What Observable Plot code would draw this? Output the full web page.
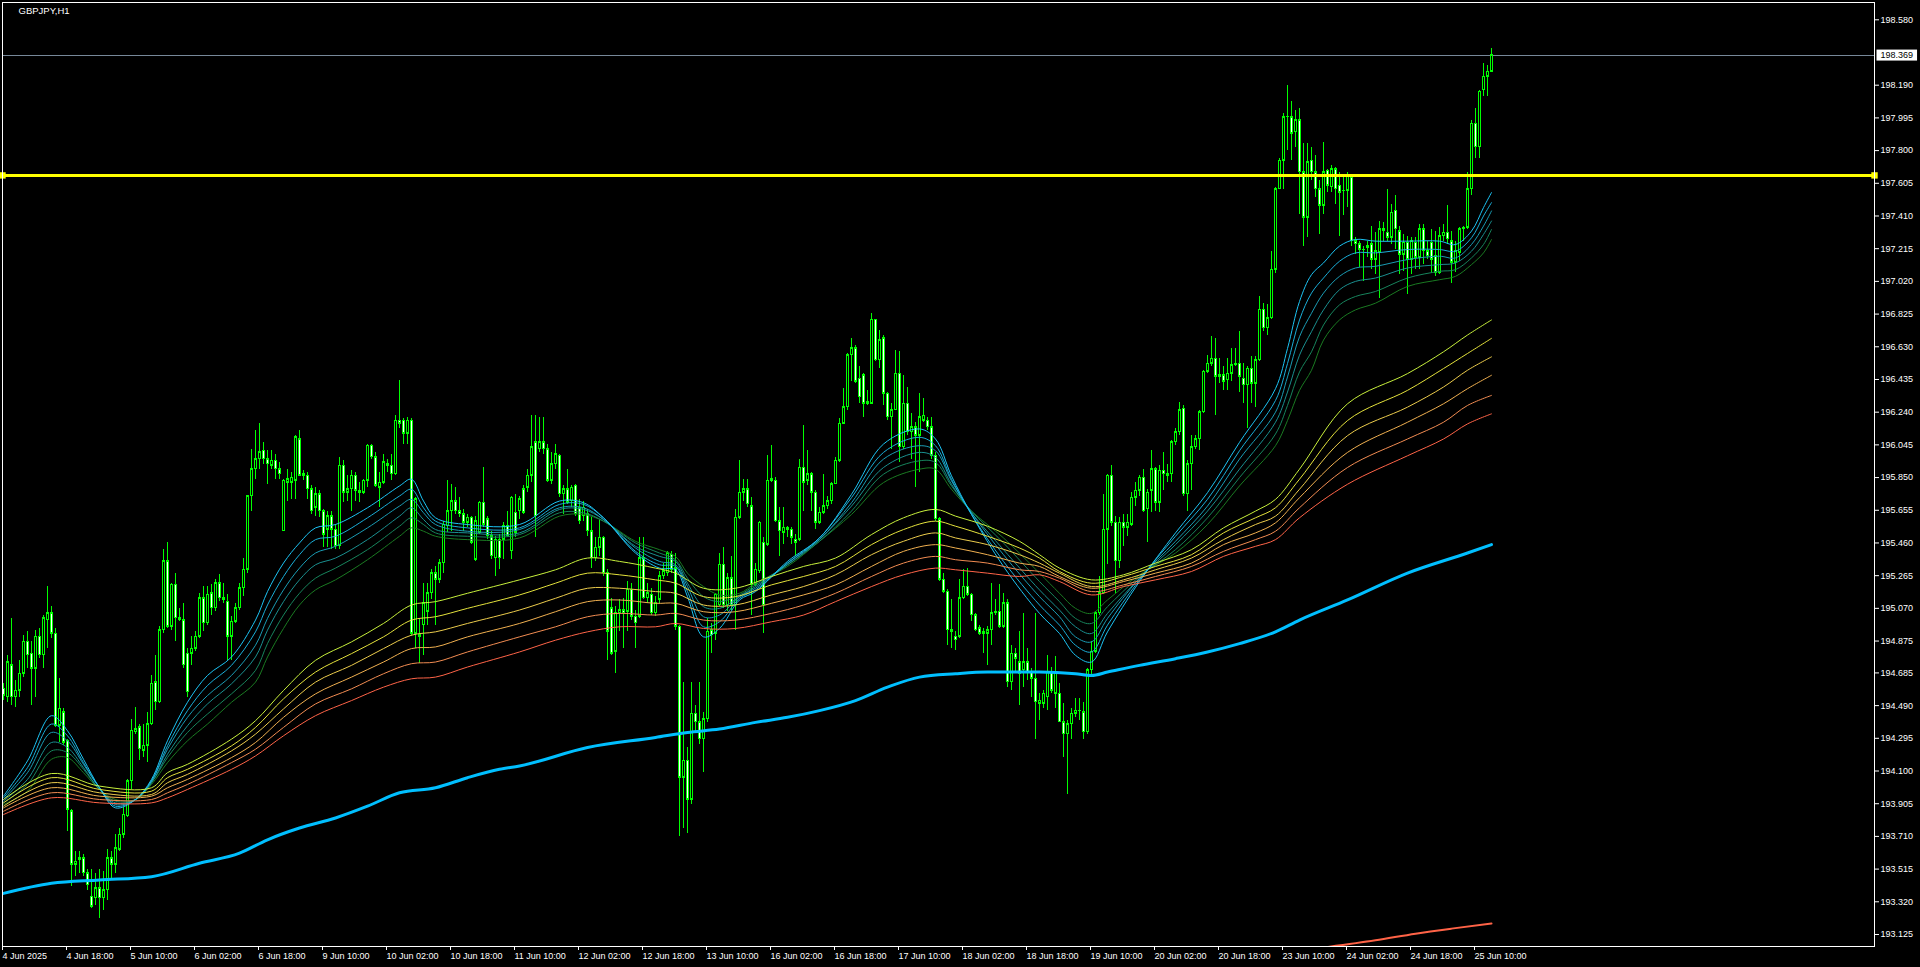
<!DOCTYPE html>
<html><head><meta charset="utf-8">
<script src="https://cdn.jsdelivr.net/npm/d3@7"></script>
<script src="https://cdn.jsdelivr.net/npm/@observablehq/plot@0.6"></script>
<style>
html,body{margin:0;padding:0;background:#000;overflow:hidden;}
svg{display:block;}
#err{color:#f00;font:20px sans-serif;position:absolute;left:200px;top:200px;}
</style></head><body><div id="chart"></div><div id="err"></div>
<script>
const symbolTitle = "GBPJPY,H1";
const xLabels = ["4 Jun 2025","4 Jun 18:00","5 Jun 10:00","6 Jun 02:00","6 Jun 18:00","9 Jun 10:00","10 Jun 02:00","10 Jun 18:00","11 Jun 10:00","12 Jun 02:00","12 Jun 18:00","13 Jun 10:00","16 Jun 02:00","16 Jun 18:00","17 Jun 10:00","18 Jun 02:00","18 Jun 18:00","19 Jun 10:00","20 Jun 02:00","20 Jun 18:00","23 Jun 10:00","24 Jun 02:00","24 Jun 18:00","25 Jun 10:00"];
const barsPerLabel = 16;
const yTicks = [198.580,198.190,197.995,197.800,197.605,197.410,197.215,197.020,196.825,196.630,196.435,196.240,196.045,195.850,195.655,195.460,195.265,195.070,194.875,194.685,194.490,194.295,194.100,193.905,193.710,193.515,193.320,193.125];
const currentPrice = 198.369;
const levelPrice = 197.652;

const open = [
194.59,194.54,194.73,194.54,194.58,194.68,194.87,194.80,194.71,194.90,
194.79,195.00,195.04,194.92,194.37,194.45,194.28,193.86,193.54,193.57,
193.58,193.49,193.35,193.34,193.40,193.34,193.39,193.58,193.54,193.63,
193.72,193.83,194.04,194.33,194.36,194.22,194.25,194.38,194.63,194.51,
194.94,195.35,194.96,195.21,195.01,195.00,194.80,194.80,194.83,194.90,
195.13,194.98,195.16,195.07,195.22,195.13,195.11,194.90,194.99,195.07,
195.19,195.30,195.74,195.90,195.96,196.01,195.96,195.92,195.95,195.90,
195.53,195.82,195.82,195.83,196.08,195.87,195.86,195.78,195.67,195.75,
195.65,195.54,195.62,195.54,195.44,195.92,195.76,195.78,195.86,195.77,
195.76,195.83,196.04,195.97,195.79,195.82,195.93,195.92,195.87,196.19,
196.19,196.11,196.19,194.92,194.91,194.97,195.05,195.16,195.28,195.24,
195.34,195.56,195.65,195.71,195.65,195.63,195.58,195.61,195.36,195.52,
195.70,195.60,195.50,195.37,195.48,195.48,195.56,195.41,195.64,195.65,
195.78,195.79,195.86,196.06,196.02,196.06,196.02,195.83,195.93,195.98,
195.75,195.78,195.71,195.80,195.67,195.62,195.63,195.53,195.37,195.43,
195.49,195.28,195.07,194.81,195.04,195.06,195.05,195.18,195.02,195.02,
195.37,195.13,195.15,195.04,195.12,195.26,195.28,195.39,195.31,194.96,
194.06,194.16,193.93,194.44,194.39,194.29,194.41,194.94,194.92,195.09,
195.33,195.09,195.25,195.09,195.61,195.76,195.78,195.68,195.21,195.29,
195.46,195.45,195.83,195.83,195.59,195.52,195.55,195.54,195.48,195.48,
195.91,195.83,195.87,195.76,195.58,195.64,195.68,195.71,195.81,195.95,
196.17,196.27,196.58,196.62,196.44,196.46,196.29,196.29,196.79,196.55,
196.68,196.35,196.21,196.25,196.47,196.03,196.29,196.12,196.15,196.10,
196.19,196.19,196.15,195.98,195.60,195.24,195.17,194.94,194.90,194.90,
195.13,195.20,195.15,195.03,194.95,194.92,194.92,194.94,195.04,195.05,
194.96,195.10,194.63,194.80,194.75,194.70,194.75,194.69,194.65,194.50,
194.50,194.54,194.69,194.56,194.56,194.39,194.32,194.38,194.44,194.46,
194.45,194.33,194.70,194.81,195.04,195.16,195.54,195.86,195.58,195.35,
195.58,195.55,195.57,195.73,195.77,195.85,195.66,195.77,195.90,195.70,
195.89,195.87,195.87,196.06,196.12,196.26,195.75,195.93,196.03,196.08,
196.24,196.48,196.53,196.56,196.46,196.46,196.43,196.47,196.52,196.53,
196.44,196.40,196.50,196.41,196.55,196.85,196.74,196.80,197.09,197.57,
197.74,198.00,198.00,197.91,197.98,197.67,197.40,197.74,197.67,197.57,
197.47,197.68,197.58,197.69,197.59,197.56,197.56,197.64,197.26,197.24,
197.21,197.22,197.24,197.15,197.19,197.33,197.31,197.28,197.44,197.32,
197.18,197.25,197.15,197.25,197.16,197.33,197.20,197.25,197.17,197.07,
197.29,197.31,197.26,197.13,197.19,197.33,197.34,197.57,197.96,197.82,
198.16,198.24,198.27];

const high = [
194.62,194.79,195.01,194.64,194.76,194.91,194.93,194.87,194.94,194.95,
195.03,195.20,195.08,194.95,194.65,194.47,194.29,193.87,193.62,193.62,
193.60,193.51,193.51,193.49,193.51,193.50,193.63,193.62,193.72,193.76,
193.88,194.05,194.41,194.48,194.38,194.38,194.45,194.67,194.79,194.96,
195.42,195.46,195.22,195.28,195.07,195.10,194.83,194.90,194.93,195.16,
195.20,195.20,195.21,195.24,195.27,195.22,195.15,195.02,195.10,195.22,
195.37,195.74,196.02,196.13,196.17,196.06,196.01,196.01,195.99,195.94,
195.84,195.90,195.88,196.10,196.13,195.89,195.88,195.80,195.79,195.77,
195.66,195.65,195.65,195.57,195.97,195.95,195.86,195.89,195.88,195.82,
195.84,196.05,196.05,196.00,195.88,195.99,195.96,195.99,196.22,196.43,
196.20,196.21,196.20,195.73,195.01,195.22,195.22,195.30,195.32,195.36,
195.59,195.83,195.81,195.79,195.73,195.66,195.63,195.62,195.62,195.71,
195.91,195.62,195.53,195.50,195.51,195.58,195.65,195.74,195.75,195.74,
195.80,195.90,196.22,196.22,196.21,196.21,196.05,196.00,196.05,195.99,
195.80,195.90,195.80,195.81,195.72,195.71,195.66,195.61,195.49,195.60,
195.50,195.30,195.13,195.08,195.12,195.13,195.23,195.22,195.06,195.49,
195.49,195.22,195.19,195.14,195.29,195.34,195.41,195.41,195.40,194.97,
194.63,194.24,194.63,194.49,194.63,194.45,195.01,194.98,195.16,195.40,
195.43,195.28,195.38,195.66,195.95,195.84,195.84,195.73,195.34,195.59,
195.49,195.98,196.04,195.85,195.67,195.67,195.56,195.55,195.51,195.96,
196.16,196.01,195.88,195.77,195.67,195.87,195.74,195.82,195.97,196.20,
196.38,196.59,196.68,196.64,196.51,196.47,196.37,196.83,196.79,196.73,
196.70,196.36,196.29,196.61,196.60,196.46,196.39,196.23,196.18,196.35,
196.32,196.21,196.21,196.00,195.61,195.28,195.18,195.12,194.93,195.24,
195.30,195.31,195.16,195.04,194.97,194.95,194.96,195.22,195.12,195.21,
195.16,195.12,194.85,194.83,194.93,195.04,194.83,194.71,195.04,194.56,
194.58,194.79,194.72,194.78,194.62,194.50,194.40,194.47,194.53,194.53,
194.51,194.71,194.87,195.05,195.26,195.75,195.87,195.92,195.62,195.61,
195.63,195.63,195.76,195.82,195.86,195.90,195.78,196.01,195.91,195.92,
196.00,195.93,196.07,196.14,196.30,196.28,195.95,196.10,196.10,196.25,
196.49,196.58,196.69,196.68,196.56,196.51,196.56,196.62,196.62,196.72,
196.53,196.51,196.57,196.57,196.93,196.89,196.88,197.20,197.58,197.75,
198.02,198.19,198.09,198.04,198.05,197.84,197.84,197.82,197.77,197.62,
197.85,197.69,197.71,197.70,197.67,197.65,197.67,197.65,197.28,197.26,
197.23,197.26,197.35,197.31,197.38,197.37,197.57,197.48,197.53,197.35,
197.30,197.29,197.28,197.28,197.36,197.36,197.26,197.33,197.32,197.34,
197.36,197.47,197.32,197.26,197.34,197.35,197.67,197.98,198.05,198.16,
198.32,198.31,198.41];

const low = [
194.52,194.51,194.49,194.48,194.54,194.66,194.71,194.49,194.54,194.77,
194.71,194.83,194.89,194.36,194.27,194.25,193.74,193.41,193.47,193.49,
193.47,193.39,193.28,193.30,193.22,193.27,193.33,193.45,193.49,193.62,
193.70,193.82,193.99,194.32,194.16,194.18,194.15,194.37,194.46,194.50,
194.92,194.95,194.94,194.87,194.99,194.71,194.54,194.73,194.81,194.89,
194.93,194.97,195.03,195.05,195.11,195.10,194.76,194.76,194.98,195.06,
195.14,195.28,195.65,195.84,195.90,195.93,195.81,195.90,195.84,195.84,
195.53,195.71,195.72,195.72,195.86,195.83,195.72,195.63,195.62,195.61,
195.43,195.43,195.42,195.42,195.42,195.70,195.71,195.65,195.71,195.70,
195.75,195.79,195.96,195.79,195.67,195.81,195.88,195.83,195.86,196.14,
196.05,196.05,194.90,194.83,194.74,194.79,194.97,195.12,194.97,195.22,
195.28,195.52,195.53,195.63,195.61,195.53,195.55,195.45,195.35,195.51,
195.55,195.48,195.36,195.26,195.30,195.36,195.49,195.36,195.49,195.60,
195.63,195.76,195.82,195.49,196.00,195.99,195.82,195.81,195.90,195.73,
195.63,195.69,195.67,195.62,195.57,195.59,195.50,195.31,195.35,195.38,
195.26,194.76,194.79,194.68,194.93,194.83,194.93,195.00,194.83,195.01,
195.12,195.10,195.03,195.02,195.10,195.24,195.26,195.28,194.94,193.71,
193.76,193.73,193.90,194.33,194.26,194.09,194.39,194.80,194.88,195.08,
195.07,195.05,195.06,194.94,195.60,195.71,195.67,195.03,195.20,195.28,
194.92,195.44,195.82,195.58,195.38,195.45,195.49,195.45,195.38,195.47,
195.65,195.80,195.65,195.54,195.57,195.63,195.66,195.69,195.81,195.94,
196.17,196.25,196.42,196.41,196.29,196.21,196.28,196.29,196.54,196.50,
196.28,196.19,196.02,196.25,195.94,196.02,196.10,195.96,195.79,195.88,
196.18,196.13,195.96,195.59,195.23,195.16,194.85,194.83,194.82,194.89,
195.12,195.14,194.99,194.93,194.91,194.80,194.73,194.85,195.03,194.95,
194.95,194.60,194.58,194.69,194.49,194.60,194.64,194.54,194.29,194.40,
194.47,194.46,194.56,194.47,194.39,194.18,193.96,194.29,194.42,194.40,
194.29,194.32,194.66,194.80,195.03,195.15,195.33,195.56,195.16,195.31,
195.44,195.50,195.56,195.68,195.74,195.64,195.46,195.64,195.65,195.64,
195.77,195.82,195.82,196.04,196.10,195.74,195.65,195.77,196.02,196.01,
196.23,196.47,196.51,196.22,196.41,196.37,196.37,196.42,196.51,196.36,
196.29,196.14,196.29,196.27,196.54,196.72,196.70,196.79,197.07,197.57,
197.57,197.80,197.74,197.82,197.42,197.23,197.28,197.62,197.52,197.30,
197.42,197.55,197.55,197.48,197.29,197.41,197.46,197.23,197.18,197.10,
197.02,197.16,197.09,197.06,196.92,197.26,197.26,197.24,197.21,197.06,
197.08,196.94,197.06,197.09,197.09,197.12,197.15,197.07,197.05,197.06,
197.26,197.24,197.01,197.07,197.14,197.26,197.33,197.53,197.75,197.75,
198.12,198.12,198.27];

const close = [
194.55,194.75,194.54,194.58,194.68,194.87,194.79,194.71,194.90,194.79,
195.01,195.04,194.92,194.37,194.47,194.27,193.87,193.54,193.56,193.58,
193.49,193.42,193.29,193.40,193.34,193.39,193.58,193.54,193.64,193.72,
193.84,194.04,194.34,194.35,194.23,194.25,194.38,194.62,194.51,194.94,
195.35,194.96,195.21,195.01,195.00,194.73,194.57,194.83,194.90,195.13,
194.98,195.15,195.07,195.22,195.13,195.12,194.90,194.99,195.07,195.19,
195.30,195.74,195.90,195.96,196.00,195.96,195.93,195.95,195.90,195.87,
195.83,195.84,195.85,196.09,195.86,195.86,195.78,195.65,195.75,195.65,
195.51,195.62,195.54,195.44,195.92,195.76,195.78,195.86,195.77,195.76,
195.83,196.04,195.97,195.80,195.82,195.94,195.92,195.87,196.19,196.17,
196.11,196.19,194.92,195.72,194.90,195.10,195.16,195.28,195.24,195.34,
195.57,195.65,195.71,195.65,195.63,195.58,195.61,195.46,195.59,195.70,
195.57,195.50,195.38,195.48,195.37,195.56,195.50,195.73,195.52,195.72,
195.64,195.86,196.03,195.62,196.06,196.02,195.83,195.93,195.99,195.75,
195.78,195.70,195.79,195.63,195.59,195.67,195.53,195.37,195.43,195.49,
195.28,194.93,194.80,195.04,195.06,195.04,195.18,195.02,194.98,195.37,
195.13,195.16,195.04,195.10,195.26,195.29,195.40,195.30,194.96,194.06,
194.16,193.93,194.44,194.39,194.29,194.41,194.93,194.91,195.15,195.33,
195.09,195.25,195.09,195.61,195.76,195.78,195.69,195.21,195.30,195.58,
195.09,195.83,195.84,195.59,195.53,195.55,195.54,195.49,195.46,195.91,
195.82,195.87,195.76,195.58,195.64,195.68,195.71,195.81,195.95,196.17,
196.27,196.58,196.62,196.42,196.33,196.29,196.30,196.79,196.55,196.67,
196.35,196.21,196.25,196.47,196.03,196.29,196.12,196.15,196.10,196.21,
196.22,196.15,195.98,195.60,195.24,195.17,194.94,194.93,194.88,195.13,
195.20,195.15,195.03,194.94,194.92,194.93,194.94,195.04,195.05,194.96,
195.10,194.63,194.80,194.77,194.68,194.75,194.69,194.65,194.51,194.52,
194.56,194.69,194.58,194.69,194.39,194.32,194.38,194.44,194.46,194.46,
194.33,194.70,194.81,195.04,195.16,195.54,195.86,195.58,195.35,195.58,
195.55,195.58,195.73,195.77,195.85,195.65,195.76,195.90,195.70,195.89,
195.87,195.86,196.06,196.12,196.25,195.75,195.93,196.03,196.08,196.24,
196.48,196.53,196.56,196.45,196.45,196.42,196.47,196.52,196.53,196.45,
196.40,196.50,196.41,196.55,196.85,196.74,196.80,197.09,197.57,197.74,
198.00,198.00,197.90,197.98,197.67,197.40,197.73,197.67,197.57,197.47,
197.67,197.59,197.69,197.57,197.55,197.56,197.65,197.26,197.24,197.21,
197.21,197.23,197.15,197.20,197.33,197.32,197.28,197.43,197.33,197.18,
197.25,197.15,197.26,197.16,197.33,197.20,197.17,197.15,197.07,197.29,
197.31,197.27,197.13,197.20,197.33,197.34,197.57,197.96,197.82,198.15,
198.24,198.27,198.369];

// Short-term moving-average ribbon, read at these bar indices
const shortIdx = [0,6,12,16,20,24,28,33,37,41,46,51,57,63,66,70,74,78,83,91,99,102,105,108,116,129,139,145,150,158,164,168,171,175,179,184,188,196,204,212,220,229,233,237,242,250,259,264,268,272,276,284,293,301,309,318,321,324,327,330,334,338,343,351,359,363,367,370,372];
const short1 = [193.95,194.16,194.43,194.34,194.17,194.00,193.88,193.93,194.05,194.28,194.51,194.67,194.78,195.00,195.17,195.34,195.46,195.55,195.57,195.67,195.80,195.84,195.71,195.61,195.57,195.57,195.71,195.70,195.61,195.40,195.31,195.30,195.14,194.90,194.95,195.12,195.17,195.35,195.49,195.75,196.05,196.14,196.08,195.86,195.63,195.32,195.04,194.92,194.79,194.75,194.93,195.23,195.52,195.76,196.06,196.38,196.62,196.90,197.06,197.13,197.23,197.27,197.26,197.26,197.26,197.24,197.32,197.46,197.55];
const short2 = [193.94,194.12,194.38,194.31,194.15,194.00,193.89,193.93,194.04,194.25,194.46,194.61,194.73,194.93,195.09,195.26,195.39,195.48,195.50,195.61,195.74,195.78,195.67,195.59,195.55,195.55,195.69,195.69,195.61,195.41,195.33,195.32,195.17,194.96,194.99,195.13,195.18,195.34,195.49,195.73,196.00,196.09,196.04,195.84,195.63,195.35,195.09,194.97,194.85,194.81,194.97,195.24,195.50,195.72,196.01,196.31,196.53,196.79,196.95,197.04,197.14,197.19,197.19,197.21,197.21,197.20,197.28,197.41,197.49];
const short3 = [193.93,194.09,194.33,194.28,194.14,194.00,193.90,193.93,194.04,194.23,194.42,194.55,194.67,194.85,195.01,195.18,195.31,195.40,195.44,195.55,195.68,195.72,195.64,195.57,195.53,195.54,195.67,195.67,195.60,195.43,195.35,195.33,195.20,195.02,195.03,195.14,195.19,195.34,195.48,195.70,195.96,196.04,196.01,195.83,195.64,195.39,195.14,195.02,194.90,194.87,195.01,195.25,195.47,195.68,195.96,196.24,196.45,196.69,196.83,196.95,197.05,197.10,197.11,197.15,197.17,197.16,197.24,197.35,197.44];
const short4 = [193.92,194.05,194.27,194.24,194.12,193.99,193.91,193.93,194.03,194.20,194.37,194.50,194.62,194.78,194.94,195.11,195.24,195.33,195.37,195.48,195.62,195.67,195.60,195.54,195.52,195.52,195.66,195.66,195.60,195.44,195.38,195.35,195.22,195.08,195.07,195.14,195.20,195.33,195.48,195.68,195.91,196.00,195.97,195.81,195.64,195.42,195.18,195.06,194.96,194.92,195.04,195.25,195.45,195.65,195.90,196.18,196.36,196.58,196.72,196.85,196.97,197.02,197.04,197.10,197.12,197.13,197.20,197.30,197.38];
const short5 = [193.91,194.02,194.22,194.21,194.11,193.99,193.92,193.93,194.03,194.18,194.33,194.44,194.56,194.70,194.86,195.03,195.16,195.25,195.31,195.42,195.56,195.61,195.57,195.52,195.50,195.51,195.64,195.64,195.59,195.46,195.40,195.36,195.25,195.14,195.11,195.15,195.21,195.33,195.47,195.65,195.87,195.95,195.94,195.80,195.65,195.46,195.23,195.11,195.01,194.98,195.08,195.26,195.42,195.61,195.85,196.11,196.28,196.48,196.60,196.76,196.88,196.93,196.96,197.04,197.08,197.09,197.16,197.24,197.33];
const short6 = [193.90,193.98,194.17,194.18,194.09,193.99,193.93,193.93,194.02,194.15,194.28,194.38,194.51,194.63,194.78,194.95,195.09,195.18,195.24,195.36,195.50,195.55,195.53,195.50,195.48,195.49,195.62,195.63,195.59,195.47,195.42,195.38,195.28,195.20,195.15,195.16,195.22,195.32,195.47,195.63,195.82,195.90,195.90,195.78,195.65,195.49,195.28,195.16,195.07,195.04,195.12,195.27,195.40,195.57,195.80,196.04,196.19,196.37,196.49,196.67,196.79,196.85,196.89,196.99,197.03,197.05,197.12,197.19,197.27];

// Long-term moving-average ribbon
const longIdx = [0,12,24,37,41,46,57,63,70,78,87,95,102,108,116,129,138,146,154,163,168,175,183,192,200,208,217,225,233,238,246,254,259,264,272,280,288,297,305,313,318,324,336,351,360,366,372];
const long1 = [193.93,194.085,194.01,194.00,194.09,194.14,194.29,194.40,194.58,194.76,194.87,194.98,195.09,195.11,195.16,195.24,195.30,195.37,195.35,195.31,195.28,195.19,195.19,195.26,195.32,195.37,195.51,195.61,195.66,195.62,195.56,195.47,195.39,195.31,195.24,195.27,195.34,195.42,195.55,195.65,195.72,195.90,196.29,196.47,196.60,196.70,196.79];
const long2 = [193.91,194.06,193.99,193.98,194.06,194.11,194.25,194.36,194.53,194.69,194.80,194.90,195.00,195.02,195.07,195.15,195.22,195.28,195.27,195.24,195.22,195.14,195.14,195.21,195.26,195.32,195.45,195.54,195.59,195.56,195.50,195.43,195.37,195.29,195.22,195.26,195.32,195.39,195.52,195.61,195.67,195.84,196.19,196.37,196.50,196.59,196.68];
const long3 = [193.89,194.03,193.97,193.96,194.03,194.08,194.22,194.32,194.47,194.63,194.73,194.83,194.91,194.93,194.98,195.06,195.13,195.19,195.19,195.17,195.16,195.09,195.09,195.15,195.20,195.27,195.39,195.47,195.52,195.49,195.45,195.39,195.34,195.28,195.20,195.24,195.30,195.37,195.48,195.57,195.62,195.78,196.10,196.27,196.39,196.49,196.57];
const long4 = [193.88,194.00,193.95,193.95,194.00,194.05,194.18,194.27,194.42,194.56,194.66,194.75,194.83,194.84,194.90,194.98,195.05,195.11,195.12,195.10,195.10,195.05,195.05,195.10,195.15,195.21,195.32,195.41,195.45,195.43,195.39,195.34,195.32,195.26,195.19,195.23,195.28,195.34,195.45,195.52,195.58,195.73,196.00,196.18,196.29,196.38,196.46];
const long5 = [193.86,193.97,193.93,193.93,193.97,194.02,194.15,194.23,194.36,194.50,194.59,194.68,194.74,194.75,194.81,194.90,194.96,195.02,195.04,195.03,195.04,195.00,195.00,195.04,195.09,195.16,195.26,195.34,195.38,195.36,195.34,195.30,195.29,195.25,195.17,195.21,195.26,195.32,195.41,195.48,195.53,195.67,195.91,196.08,196.18,196.28,196.34];
const long6 = [193.84,193.94,193.91,193.91,193.94,193.99,194.11,194.19,194.31,194.43,194.52,194.60,194.65,194.66,194.72,194.81,194.88,194.93,194.96,194.96,194.98,194.95,194.95,194.99,195.03,195.11,195.20,195.27,195.31,195.30,195.28,195.26,195.27,195.23,195.15,195.20,195.24,195.29,195.38,195.44,195.48,195.61,195.81,195.98,196.08,196.17,196.23];

// Thick blue moving average
const blueIdx = [0,12,24,37,49,59,66,74,83,91,99,108,116,124,129,146,163,171,179,188,196,204,213,221,229,238,246,259,268,272,276,284,293,301,309,318,324,336,351,366,372];
const blueMA = [193.37,193.43,193.45,193.47,193.55,193.61,193.69,193.76,193.82,193.89,193.97,194.00,194.06,194.11,194.13,194.24,194.30,194.33,194.35,194.39,194.42,194.46,194.52,194.60,194.66,194.68,194.69,194.69,194.68,194.67,194.69,194.73,194.77,194.81,194.86,194.93,195.00,195.12,195.28,195.40,195.45];

// Slow red moving average (only its end is inside the window)
const redIdx = [331,343,353,362,372];
const redMA = [193.05,193.09,193.13,193.16,193.19];

const shortColors = ["#1cc4f4","#1aaed8","#1a9cb4","#1a9090","#17845c","#1a7a22"];
const longColors = ["#c8f03c","#e4e23c","#eccc4c","#f0b050","#f28c52","#ff6448"];

const n = close.length;
const err = [];
if (open.length!==n||high.length!==n||low.length!==n) err.push(`ohlc ${open.length} ${high.length} ${low.length} ${n}`);
[short1,short2,short3,short4,short5,short6].forEach((a,k)=>{ if(a.length!==shortIdx.length) err.push(`short${k+1} ${a.length} vs ${shortIdx.length}`); });
[long1,long2,long3,long4,long5,long6].forEach((a,k)=>{ if(a.length!==longIdx.length) err.push(`long${k+1} ${a.length} vs ${longIdx.length}`); });
if (blueMA.length!==blueIdx.length) err.push("blue");
document.getElementById("err").textContent = err.join(" | ");

const bars = close.map((c,i)=>({i, o: open[i], h: high[i], l: low[i], c, bull: c >= open[i]}));
const series = (idx, vals) => idx.map((i,k)=>({i, v: vals[k]}));

const lineMarks = [];
[short6,short5,short4,short3,short2,short1].forEach((vals,k)=>{
  lineMarks.push(Plot.line(series(shortIdx, vals), {x:"i", y:"v", stroke: shortColors[5-k], strokeWidth: 1, curve:"catmull-rom"}));
});
[long6,long5,long4,long3,long2,long1].forEach((vals,k)=>{
  lineMarks.push(Plot.line(series(longIdx, vals), {x:"i", y:"v", stroke: longColors[5-k], strokeWidth: 1, curve:"catmull-rom"}));
});

const priceText = currentPrice.toFixed(3);

const plot = Plot.plot({
  width: 1920, height: 967,
  marginLeft: 2, marginRight: 46, marginTop: 2, marginBottom: 21,
  style: {background: "#000", color: "#fff", fontFamily: "'Liberation Sans', Arial, sans-serif", fontSize: "9px"},
  x: {type: "linear", domain: [-0.25, 467.75]},
  y: {domain: [193.0534, 198.6832]},
  marks: [
    Plot.ruleY([currentPrice], {stroke: "#778899", strokeWidth: 1, shapeRendering: "crispEdges"}),
    // wicks
    Plot.rect(bars, {x1: d => d.i, x2: d => d.i + 0.25, y1: "l", y2: "h", fill: "#00ff00", shapeRendering: "crispEdges"}),
    // bodies
    Plot.rect(bars, {x1: d => d.i - 0.25, x2: d => d.i + 0.5, y1: d => Math.min(d.o, d.c), y2: d => Math.max(d.o, d.c), fill: "#00ff00", insetTop: -0.5, insetBottom: -0.5, shapeRendering: "crispEdges"}),
    Plot.rect(bars, {filter: d => Math.abs(d.o - d.c) > 0.014, x1: d => d.i, x2: d => d.i + 0.25, y1: d => Math.min(d.o, d.c), y2: d => Math.max(d.o, d.c), fill: d => d.bull ? "#000" : "#fff", insetTop: 1, insetBottom: 1, shapeRendering: "crispEdges"}),
    ...lineMarks,
    Plot.line(series(blueIdx, blueMA), {x: "i", y: "v", stroke: "#00bfff", strokeWidth: 3, curve: "monotone-x"}),
    Plot.line(series(redIdx, redMA), {x: "i", y: "v", stroke: "#ff6347", strokeWidth: 2, curve: "monotone-x", clip: true}),
    Plot.ruleY([levelPrice], {stroke: "#ffff00", strokeWidth: 3}),
    Plot.dot([levelPrice], {y: d => d, frameAnchor: "left", symbol: "square", r: 3.6, fill: "#ffff00"}),
    Plot.dot([levelPrice], {y: d => d, frameAnchor: "right", symbol: "square", r: 3.6, fill: "#ffff00"}),
    Plot.frame({stroke: "#fff", shapeRendering: "crispEdges"}),
    Plot.axisY({anchor: "right", ticks: yTicks, tickFormat: d => d.toFixed(3), tickSize: 4, tickPadding: 2, label: null, fontSize: 9}),
    Plot.axisX({ticks: xLabels.map((_, k) => k * barsPerLabel), tickFormat: d => xLabels[Math.round(d / barsPerLabel)], tickSize: 4, tickPadding: 2, textAnchor: "start", dx: -1, label: null, fontSize: 9}),
    Plot.text([symbolTitle], {frameAnchor: "top-left", dx: 16, dy: 5, textAnchor: "start", lineAnchor: "top", fill: "#fff", fontSize: 9.5}),
    Plot.text([currentPrice], {y: d => d, text: () => priceText, frameAnchor: "right", dx: 6, textAnchor: "start", fill: "#000", fontSize: 9})
  ]
});
document.getElementById("chart").appendChild(plot);

// white box behind the current-price label, sized from the rendered text
const priceNode = d3.select(plot).selectAll("text").filter(function() { return this.textContent === priceText; }).node();
if (priceNode) {
  const bb = priceNode.getBBox();
  const r = d3.select(priceNode.parentNode).insert("rect", () => priceNode)
    .attr("x", bb.x - 4).attr("y", bb.y - 0.5).attr("width", bb.width + 8).attr("height", bb.height + 1)
    .attr("fill", "#fff");
  const tf = priceNode.getAttribute("transform");
  if (tf) r.attr("transform", tf);
  d3.select(priceNode).attr("fill", "#000");
}
</script></body></html>
